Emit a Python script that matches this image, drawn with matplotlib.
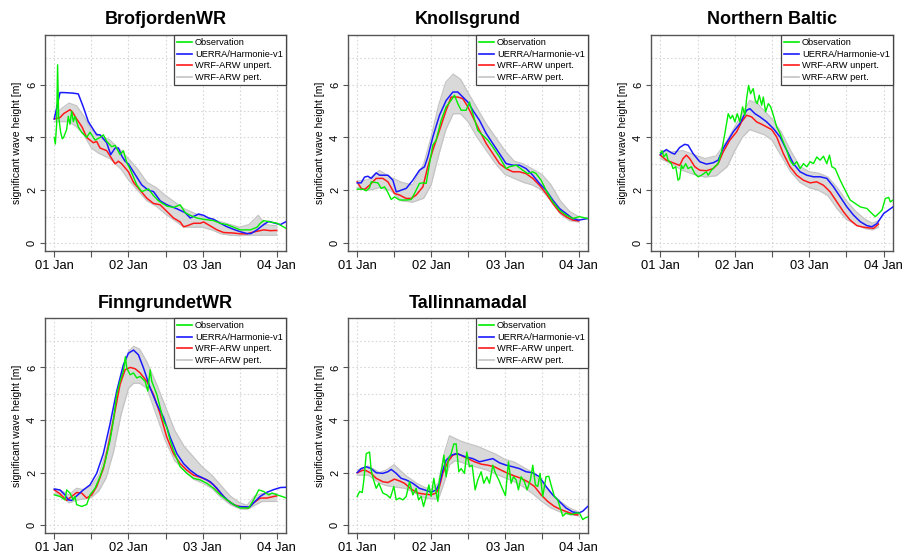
import matplotlib
matplotlib.use("Agg")
import matplotlib.pyplot as plt
from matplotlib.lines import Line2D

plt.rcParams['font.family'] = ['Liberation Sans', 'DejaVu Sans']

# ---------------- data (time in days since 01 Jan 00:00, Hs in m) ----------------
stations = ["BrofjordenWR", "Knollsgrund", "Northern Baltic", "FinngrundetWR", "Tallinnamadal"]
day_ticks = [0, 1, 2, 3]
day_labels = ["01 Jan", "02 Jan", "03 Jan", "04 Jan"]
legend_labels = ["Observation", "UERRA/Harmonie-v1", "WRF-ARW unpert.", "WRF-ARW pert."]

# BrofjordenWR
bro_obs_t = [0, .014, .032, .045, .059, .086, .108, .126, .167, .189, .212, .234, .257, .279, .324, .369, .437, .482,
             .550, .617, .662, .707, .775, .820, .887, .932, .977, 1.023, 1.068, 1.113, 1.180, 1.270, 1.338, 1.405,
             1.518, 1.608, 1.698, 1.766, 1.833, 1.923, 2.014, 2.149, 2.239, 2.329, 2.419, 2.509, 2.644, 2.734, 2.779,
             2.824, 2.914, 3.005, 3.131]
bro_obs_v = [4.0, 3.75, 4.5, 6.75, 4.8, 4.2, 3.95, 4.0, 4.3, 4.8, 4.5, 5.0, 4.6, 4.8, 4.4, 4.2, 4.0, 4.2,
             3.9, 4.0, 4.1, 3.85, 3.65, 3.7, 3.35, 3.5, 3.05, 2.8, 2.5, 2.2, 1.95, 2.05, 1.8, 1.6,
             1.4, 1.35, 1.45, 1.15, 1.05, 0.95, 0.9, 0.85, 0.75, 0.7, 0.6, 0.5, 0.5, 0.6, 0.75,
             0.85, 0.8, 0.75, 0.55]
bro_uerra_t = [0, .077, .126, .248, .324, .392, .459, .572, .617, .707, .761, .820, .865, .910, .955, 1.0, 1.090,
               1.180, 1.270, 1.338, 1.428, 1.518, 1.653, 1.766, 1.833, 1.946, 2.014, 2.081, 2.149, 2.239, 2.329,
               2.419, 2.509, 2.599, 2.653, 2.734, 2.824, 2.892, 2.982, 3.050, 3.131]
bro_uerra_v = [4.7, 5.7, 5.7, 5.68, 5.65, 5.15, 4.6, 4.1, 4.1, 3.8, 3.35, 3.6, 3.6, 3.3, 3.1, 3.0, 2.6,
               2.2, 2.0, 1.95, 1.6, 1.45, 1.3, 1.15, 0.95, 1.1, 1.05, 0.95, 0.9, 0.75, 0.62,
               0.52, 0.43, 0.36, 0.36, 0.5, 0.7, 0.82, 0.75, 0.7, 0.82]
bro_wrf_t = [0, .077, .126, .212, .248, .302, .374, .437, .527, .572, .617, .707, .752, .820, .865, .910, 1.0,
             1.068, 1.158, 1.248, 1.338, 1.428, 1.518, 1.608, 1.698, 1.743, 1.788, 1.878, 1.968, 2.014, 2.104,
             2.194, 2.284, 2.419, 2.509, 2.599, 2.689, 2.824, 2.914, 3.0]
bro_wrf_v = [4.7, 4.75, 4.9, 5.05, 4.95, 4.7, 4.4, 4.0, 3.8, 3.85, 3.6, 3.5, 3.3, 3.0, 3.1, 3.0, 2.7,
             2.3, 2.0, 1.7, 1.5, 1.45, 1.2, 0.95, 0.8, 0.62, 0.65, 0.75, 0.75, 0.8, 0.65,
             0.5, 0.4, 0.38, 0.35, 0.35, 0.42, 0.5, 0.47, 0.48]
bro_ens_t = [0, 0.1, 0.2, 0.3, 0.4, 0.5, 0.6, 0.75, 0.9, 1.0, 1.125, 1.25, 1.375, 1.5, 1.625, 1.75, 1.875, 2.0,
             2.125, 2.25, 2.375, 2.5, 2.625, 2.75, 2.85, 3.0]
bro_ens_hi = [4.8, 5.1, 5.3, 5.2, 4.8, 4.3, 4.1, 3.9, 3.5, 3.2, 2.8, 2.3, 2.1, 1.8, 1.55, 1.3, 1.15, 1.0,
              0.9, 0.8, 0.7, 0.6, 0.7, 1.05, 0.7, 0.65]
bro_ens_lo = [4.6, 4.6, 4.6, 4.4, 4.1, 3.6, 3.4, 3.2, 2.8, 2.4, 2.0, 1.6, 1.4, 1.1, 0.85, 0.6, 0.6, 0.6,
              0.5, 0.35, 0.3, 0.28, 0.3, 0.3, 0.3, 0.3]

# Knollsgrund
kno_obs_t = [0, .077, .122, .167, .189, .280, .325, .370, .415, .460, .505, .573, .663, .731, .776, .843, .889, .934,
             .979, 1.024, 1.069, 1.137, 1.204, 1.272, 1.317, 1.362, 1.407, 1.475, 1.520, 1.565, 1.633, 1.700, 1.768,
             1.836, 1.926, 2.016, 2.061, 2.152, 2.242, 2.309, 2.377, 2.422, 2.490, 2.557, 2.648, 2.738, 2.828, 2.918,
             3.009, 3.121]
kno_obs_v = [2.04, 2.04, 1.98, 2.1, 2.32, 2.28, 2.07, 2.13, 1.92, 1.65, 1.75, 1.63, 1.63, 1.65, 1.88, 2.26, 2.28, 2.26,
             3.01, 3.71, 3.9, 4.65, 5.16, 5.41, 5.6, 5.28, 5.03, 5.03, 5.34, 4.9, 4.27, 4.08, 3.9,
             3.64, 3.26, 2.82, 2.89, 2.95, 2.76, 2.63, 2.70, 2.63, 2.38, 2.0, 1.56, 1.25, 1.06, 0.93,
             1.0, 0.93]
kno_uerra_t = [0, .054, .099, .144, .189, .257, .302, .415, .483, .528, .573, .663, .753, .843, .911, .956, 1.024,
               1.114, 1.204, 1.295, 1.362, 1.430, 1.498, 1.565, 1.655, 1.746, 1.836, 1.926, 2.016, 2.106, 2.197,
               2.287, 2.377, 2.467, 2.557, 2.648, 2.738, 2.828, 2.918, 3.0, 3.121]
kno_uerra_v = [2.28, 2.28, 2.5, 2.53, 2.45, 2.66, 2.57, 2.57, 2.38, 1.94, 1.98, 2.07, 2.38, 2.76, 2.89, 3.26, 4.02,
               4.84, 5.4, 5.72, 5.72, 5.53, 5.34, 5.03, 4.65, 4.15, 3.77, 3.39, 3.01, 2.95, 2.95,
               2.82, 2.57, 2.26, 2.0, 1.63, 1.31, 1.12, 0.93, 0.87, 0.93]
kno_wrf_t = [0, .054, .099, .167, .257, .347, .415, .505, .573, .663, .731, .798, .889, .956, 1.024, 1.114, 1.204,
             1.272, 1.362, 1.430, 1.498, 1.565, 1.655, 1.746, 1.836, 1.926, 2.016, 2.106, 2.197, 2.287, 2.377,
             2.467, 2.557, 2.648, 2.738, 2.828, 2.918, 3.0]
kno_wrf_v = [2.32, 2.07, 2.03, 2.19, 2.45, 2.45, 2.32, 1.88, 1.82, 1.69, 1.69, 1.82, 2.13, 2.89, 3.52, 4.27, 5.03,
             5.53, 5.53, 5.47, 5.16, 4.78, 4.27, 3.77, 3.39, 3.01, 2.82, 2.70, 2.70, 2.63, 2.45,
             2.19, 1.88, 1.50, 1.18, 1.0, 0.87, 0.84]
kno_ens_t = [0, 0.15, 0.3, 0.45, 0.6, 0.75, 0.9, 1.0, 1.1, 1.2, 1.3, 1.4, 1.5, 1.625, 1.75, 1.875, 2.0, 2.125,
             2.25, 2.375, 2.5, 2.625, 2.75, 2.875, 3.0]
kno_ens_hi = [2.35, 2.4, 2.75, 2.5, 2.3, 2.2, 3.0, 4.0, 5.2, 6.1, 6.4, 6.2, 5.7, 5.1, 4.5, 4.0, 3.5, 3.1,
              3.0, 2.8, 2.6, 2.2, 1.6, 1.2, 1.0]
kno_ens_lo = [2.1, 2.0, 2.1, 2.0, 1.6, 1.55, 1.7, 2.2, 3.3, 4.3, 4.9, 4.9, 4.6, 4.0, 3.5, 3.0, 2.6, 2.45,
              2.3, 2.2, 2.0, 1.6, 1.1, 0.85, 0.8]

# Northern Baltic
nob_obs_t = [0, .027, .045, .081, .103, .148, .171, .207, .238, .260, .283, .305, .341, .373, .418, .463, .507, .552,
             .620, .642, .687, .732, .777, .822, .867, .912, .943, .970, 1.001, 1.033, 1.069, 1.105, 1.136, 1.159,
             1.185, 1.212, 1.248, 1.275, 1.302, 1.329, 1.361, 1.383, 1.414, 1.450, 1.482, 1.518, 1.563, 1.608,
             1.652, 1.697, 1.742, 1.787, 1.832, 1.877, 1.922, 1.967, 2.012, 2.057, 2.101, 2.146, 2.191, 2.236,
             2.272, 2.304, 2.348, 2.416, 2.483, 2.550, 2.618, 2.685, 2.775, 2.842, 2.887, 2.932, 2.977, 3.022,
             3.067, 3.089, 3.125]
nob_obs_v = [3.42, 3.49, 3.26, 3.39, 3.14, 3.01, 2.82, 2.89, 2.38, 2.44, 2.95, 2.82, 3.01, 2.82, 2.89, 2.63, 2.51, 2.57,
             2.7, 2.57, 2.76, 2.89, 3.01, 3.45, 4.15, 4.9, 4.71, 4.84, 4.59, 4.9, 4.59, 5.16, 4.84, 5.47,
             5.97, 5.66, 5.85, 5.41, 5.28, 5.6, 5.22, 5.53, 4.97, 5.28, 5.16, 4.84, 4.4, 4.15,
             3.83, 3.52, 3.14, 2.95, 3.08, 2.82, 3.01, 2.89, 3.08, 3.01, 3.26, 3.14, 3.29, 3.01,
             3.33, 2.89, 2.82, 2.38, 2.0, 1.63, 1.5, 1.37, 1.31, 1.12, 1.0, 1.12, 1.25, 1.69,
             1.73, 1.56, 1.63]
nob_uerra_t = [0, .036, .081, .148, .193, .260, .328, .373, .440, .530, .620, .709, .777, .844, .912, .979, 1.069,
               1.159, 1.203, 1.271, 1.338, 1.428, 1.518, 1.608, 1.697, 1.787, 1.877, 1.967, 2.057, 2.146, 2.236,
               2.326, 2.416, 2.506, 2.595, 2.685, 2.775, 2.842, 2.910, 3.0, 3.125]
nob_uerra_v = [3.35, 3.45, 3.54, 3.42, 3.37, 3.62, 3.74, 3.71, 3.39, 3.08, 2.99, 3.04, 3.14, 3.58, 3.9, 4.21, 4.53,
               5.03, 5.09, 4.9, 4.78, 4.59, 4.34, 4.02, 3.52, 3.01, 2.70, 2.57, 2.51, 2.51, 2.45,
               2.13, 1.75, 1.37, 1.06, 0.81, 0.66, 0.62, 0.74, 1.12, 1.37]
nob_wrf_t = [0, .081, .171, .260, .305, .350, .395, .463, .530, .620, .709, .777, .844, .934, 1.024, 1.091, 1.159,
             1.226, 1.293, 1.361, 1.428, 1.495, 1.563, 1.652, 1.742, 1.832, 1.922, 2.012, 2.101, 2.191, 2.281,
             2.371, 2.461, 2.550, 2.640, 2.730, 2.820, 2.865, 2.930]
nob_wrf_v = [3.33, 3.14, 3.04, 2.94, 3.2, 3.33, 3.2, 2.89, 2.76, 2.74, 2.82, 3.01, 3.45, 3.9, 4.21, 4.59, 4.84,
             4.78, 4.59, 4.5, 4.4, 4.3, 4.02, 3.39, 2.89, 2.57, 2.38, 2.28, 2.32, 2.19, 1.94,
             1.56, 1.18, 0.87, 0.66, 0.6, 0.57, 0.56, 0.72]
nob_ens_t = [0, 0.15, 0.3, 0.45, 0.6, 0.75, 0.9, 1.0, 1.1, 1.2, 1.3, 1.4, 1.5, 1.625, 1.75, 1.875, 2.0, 2.125,
             2.25, 2.375, 2.5, 2.625, 2.75, 2.85, 2.93]
nob_ens_hi = [3.5, 3.45, 3.5, 3.35, 3.2, 3.3, 3.9, 4.4, 4.9, 5.4, 5.3, 5.0, 4.7, 4.2, 3.5, 2.9, 2.7, 2.65,
              2.5, 2.1, 1.6, 1.2, 0.9, 0.75, 0.85]
nob_ens_lo = [3.2, 3.0, 2.75, 2.6, 2.5, 2.55, 2.9, 3.5, 4.0, 4.3, 4.2, 4.1, 3.9, 3.3, 2.7, 2.3, 2.1, 2.0,
              1.8, 1.3, 0.9, 0.7, 0.55, 0.5, 0.6]

# FinngrundetWR
fin_obs_t = [0, .077, .144, .167, .212, .257, .279, .302, .369, .437, .482, .550, .617, .685, .752, .797, .842, .887,
             .932, .959, .977, 1.023, 1.068, 1.113, 1.158, 1.225, 1.261, 1.293, 1.315, 1.383, 1.428, 1.473, 1.518,
             1.563, 1.608, 1.698, 1.788, 1.878, 1.968, 2.059, 2.149, 2.239, 2.329, 2.419, 2.509, 2.622, 2.689,
             2.757, 2.824, 2.892, 2.937, 3.005, 3.072, 3.131]
fin_obs_v = [1.15, 1.09, 0.96, 1.34, 1.22, 0.96, 1.09, 0.78, 0.71, 0.78, 1.15, 1.4, 1.84, 2.4, 3.22, 3.97, 4.97, 5.47,
             5.85, 6.41, 5.98, 5.72, 5.79, 5.6, 5.66, 5.47, 5.1, 5.91, 5.47, 4.97, 4.47, 3.97, 3.72,
             3.22, 2.84, 2.22, 1.97, 1.78, 1.72, 1.59, 1.4, 1.15, 0.96, 0.78, 0.65, 0.65, 0.96,
             1.34, 1.28, 1.15, 1.22, 1.15, 1.09, 1.03]
fin_uerra_t = [0, .077, .144, .189, .234, .302, .392, .482, .572, .662, .752, .842, .932, 1.0, 1.068, 1.135, 1.203,
               1.293, 1.383, 1.473, 1.563, 1.653, 1.743, 1.833, 1.923, 2.014, 2.104, 2.194, 2.284, 2.374, 2.464,
               2.545, 2.635, 2.689, 2.779, 2.869, 2.959, 3.050, 3.131]
fin_uerra_v = [1.37, 1.34, 1.15, 0.96, 0.94, 1.11, 1.34, 1.53, 1.97, 2.72, 3.85, 5.1, 6.1, 6.54, 6.66, 6.48, 5.98,
               5.22, 4.6, 4.1, 3.34, 2.72, 2.34, 2.09, 1.9, 1.78, 1.65, 1.4, 1.09, 0.86, 0.71,
               0.70, 0.69, 0.85, 1.1, 1.25, 1.35, 1.43, 1.44]
fin_wrf_t = [0, .077, .167, .234, .302, .369, .437, .505, .572, .662, .752, .820, .887, .955, 1.023, 1.090, 1.158,
             1.248, 1.338, 1.428, 1.518, 1.608, 1.698, 1.788, 1.878, 1.968, 2.059, 2.149, 2.239, 2.329, 2.419,
             2.509, 2.622, 2.689, 2.779, 2.869, 2.959, 3.0]
fin_wrf_v = [1.34, 1.19, 0.94, 1.09, 1.24, 1.22, 1.03, 1.15, 1.47, 2.15, 3.34, 4.35, 5.35, 5.91, 6.0, 5.95, 5.79,
             5.47, 4.97, 4.22, 3.34, 2.72, 2.34, 2.09, 1.9, 1.82, 1.72, 1.53, 1.22, 0.96, 0.78,
             0.7, 0.66, 0.85, 1.03, 1.03, 1.09, 1.11]
fin_ens_t = [0, 0.1, 0.2, 0.3, 0.4, 0.5, 0.6, 0.7, 0.8, 0.9, 1.0, 1.07, 1.15, 1.25, 1.375, 1.5, 1.625, 1.75,
             1.875, 2.0, 2.125, 2.25, 2.375, 2.5, 2.6, 2.7, 2.8, 2.9, 3.0]
fin_ens_hi = [1.4, 1.3, 1.15, 1.4, 1.35, 1.5, 1.9, 2.8, 4.2, 5.6, 6.6, 6.8, 6.7, 6.2, 5.4, 4.5, 3.6, 3.0,
              2.6, 2.2, 1.9, 1.5, 1.1, 0.85, 0.75, 1.1, 1.2, 1.2, 1.2]
fin_ens_lo = [1.2, 1.1, 0.85, 0.95, 1.0, 1.05, 1.3, 1.8, 2.8, 4.2, 5.2, 5.4, 5.4, 5.2, 4.2, 3.2, 2.45, 2.1,
              1.75, 1.6, 1.4, 1.05, 0.78, 0.62, 0.6, 0.75, 0.9, 0.9, 0.9]

# Tallinnamadal
tal_obs_t = [0, .032, .068, .090, .122, .167, .189, .221, .257, .293, .347, .401, .447, .496, .528, .573, .618, .663,
             .708, .753, .798, .830, .866, .898, .934, .970, 1.001, 1.037, 1.069, 1.092, 1.114, 1.150, 1.173, 1.204,
             1.236, 1.272, 1.308, 1.340, 1.376, 1.407, 1.452, 1.484, 1.520, 1.556, 1.597, 1.633, 1.678, 1.714,
             1.755, 1.791, 1.836, 1.872, 1.917, 1.953, 2.007, 2.048, 2.084, 2.115, 2.152, 2.183, 2.219, 2.264,
             2.300, 2.345, 2.377, 2.413, 2.445, 2.476, 2.512, 2.557, 2.594, 2.625, 2.670, 2.715, 2.783, 2.828,
             2.896, 2.963, 3.009, 3.054, 3.090, 3.121]
tal_obs_v = [1.09, 1.28, 1.24, 1.72, 2.72, 2.78, 2.09, 1.72, 1.4, 1.59, 1.22, 1.15, 1.03, 1.47, 0.96, 1.03, 0.96, 1.09,
             1.65, 1.15, 1.4, 0.96, 1.09, 0.71, 1.09, 1.53, 1.09, 1.78, 1.22, 0.9, 1.72, 2.22, 2.66, 1.84,
             2.53, 2.72, 3.09, 3.09, 2.03, 2.15, 1.97, 2.78, 2.22, 2.28, 1.34, 1.72, 2.03, 1.59,
             1.84, 1.59, 2.28, 1.97, 1.72, 1.47, 1.12, 2.41, 1.59, 1.84, 1.72, 1.34, 1.84, 1.65,
             1.34, 1.72, 2.28, 1.53, 1.47, 1.97, 1.09, 1.84, 1.86, 1.53, 1.09, 0.96, 0.34, 0.46,
             0.4, 0.46, 0.46, 0.21, 0.28, 0.31]
tal_uerra_t = [0, .054, .122, .189, .257, .347, .415, .460, .528, .595, .663, .753, .843, .934, 1.001, 1.069, 1.114,
               1.159, 1.204, 1.272, 1.340, 1.407, 1.475, 1.565, 1.655, 1.746, 1.836, 1.926, 2.016, 2.106, 2.197,
               2.287, 2.377, 2.467, 2.557, 2.648, 2.738, 2.828, 2.918, 3.0, 3.054, 3.121]
tal_uerra_v = [2.0, 2.15, 2.22, 2.15, 1.99, 1.97, 2.03, 2.12, 1.97, 1.78, 1.72, 1.59, 1.4, 1.32, 1.25, 1.34, 1.59,
               2.09, 2.47, 2.66, 2.72, 2.66, 2.59, 2.53, 2.41, 2.47, 2.53, 2.37, 2.28, 2.22, 2.15,
               2.03, 1.99, 1.84, 1.47, 1.15, 0.9, 0.65, 0.5, 0.46, 0.53, 0.71]
tal_wrf_t = [0, .077, .122, .189, .257, .347, .415, .505, .573, .641, .731, .821, .911, 1.001, 1.069, 1.114, 1.159,
             1.227, 1.295, 1.362, 1.430, 1.498, 1.588, 1.678, 1.768, 1.858, 1.949, 2.039, 2.129, 2.219, 2.309,
             2.400, 2.490, 2.580, 2.670, 2.760, 2.851, 2.941, 2.986]
tal_wrf_v = [1.99, 2.09, 2.07, 1.97, 1.78, 1.65, 1.62, 1.75, 1.68, 1.59, 1.37, 1.22, 1.18, 1.15, 1.22, 1.47, 1.97,
             2.41, 2.66, 2.72, 2.62, 2.53, 2.41, 2.32, 2.28, 2.22, 2.09, 1.97, 1.87, 1.78, 1.65,
             1.47, 1.15, 0.9, 0.71, 0.59, 0.49, 0.4, 0.39]
tal_ens_t = [0, 0.15, 0.3, 0.4, 0.5, 0.65, 0.8, 0.9, 1.0, 1.1, 1.175, 1.25, 1.325, 1.4, 1.5, 1.625, 1.75, 1.875,
             2.0, 2.125, 2.25, 2.375, 2.5, 2.625, 2.75, 2.875, 3.0]
tal_ens_hi = [2.1, 2.25, 2.0, 2.1, 2.3, 1.9, 1.6, 1.45, 1.35, 1.6, 2.7, 3.4, 3.3, 3.2, 3.1, 3.0, 2.85, 2.7,
              2.5, 2.4, 2.2, 2.0, 1.6, 1.2, 0.9, 0.65, 0.5]
tal_ens_lo = [1.9, 1.9, 1.6, 1.5, 1.45, 1.4, 1.2, 1.05, 1.0, 1.0, 1.6, 2.3, 2.45, 2.4, 2.3, 2.2, 2.1, 1.95,
              1.8, 1.65, 1.45, 1.2, 0.9, 0.65, 0.5, 0.4, 0.35]

panels = [
    (bro_obs_t, bro_obs_v, bro_uerra_t, bro_uerra_v, bro_wrf_t, bro_wrf_v, bro_ens_t, bro_ens_lo, bro_ens_hi),
    (kno_obs_t, kno_obs_v, kno_uerra_t, kno_uerra_v, kno_wrf_t, kno_wrf_v, kno_ens_t, kno_ens_lo, kno_ens_hi),
    (nob_obs_t, nob_obs_v, nob_uerra_t, nob_uerra_v, nob_wrf_t, nob_wrf_v, nob_ens_t, nob_ens_lo, nob_ens_hi),
    (fin_obs_t, fin_obs_v, fin_uerra_t, fin_uerra_v, fin_wrf_t, fin_wrf_v, fin_ens_t, fin_ens_lo, fin_ens_hi),
    (tal_obs_t, tal_obs_v, tal_uerra_t, tal_uerra_v, tal_wrf_t, tal_wrf_v, tal_ens_t, tal_ens_lo, tal_ens_hi),
]

# ---------------- styling ----------------
C_OBS, C_UERRA, C_WRF, C_ENS = '#00ee00', '#1a1aff', '#ff1a1a', '#c4c4c4'
C_FILL = '#d9d9d9'
C_BOX = '#555555'
W, H = 904, 556
# axes rectangles in pixels: left, top, width, height
rects = [(45, 35, 241, 216), (348, 35, 240, 216), (651, 35, 242, 216),
         (45, 318, 241, 215), (348, 318, 240, 215)]

fig = plt.figure(figsize=(W / 100, H / 100), dpi=100)

for name, rect, data in zip(stations, rects, panels):
    l, t, w, h = rect
    ax = fig.add_axes([l / W, 1 - (t + h) / H, w / W, h / H])
    obs_t, obs_v, ue_t, ue_v, wr_t, wr_v, en_t, en_lo, en_hi = data

    ax.set_xlim(-0.125, 3.125)
    ax.set_ylim(-0.3, 7.88)
    for gx in [0, 0.5, 1, 1.5, 2, 2.5, 3]:
        ax.axvline(gx, color='#d8d8d8', lw=0.8, ls=(0, (1.5, 2)), zorder=0)
    for gy in range(0, 8):
        ax.axhline(gy, color='#d8d8d8', lw=0.8, ls=(0, (1.5, 2)), zorder=0)

    ax.fill_between(en_t, en_lo, en_hi, color=C_FILL, lw=0, zorder=1)
    ax.plot(en_t, en_lo, color=C_ENS, lw=0.9, zorder=1.5)
    ax.plot(en_t, en_hi, color=C_ENS, lw=0.9, zorder=1.5)
    ax.plot(wr_t, wr_v, color=C_WRF, lw=1.1, zorder=2)
    ax.plot(ue_t, ue_v, color=C_UERRA, lw=1.1, zorder=3)
    ax.plot(obs_t, obs_v, color=C_OBS, lw=1.0, zorder=4)

    ax.set_xticks([0, 0.5, 1, 1.5, 2, 2.5, 3])
    ax.set_xticklabels([day_labels[0], '', day_labels[1], '', day_labels[2], '', day_labels[3]])
    ax.set_yticks([0, 2, 4, 6])
    ax.set_yticklabels(['0', '2', '4', '6'])
    ax.tick_params(axis='x', length=4.3, width=0.8, color=C_BOX, pad=2.5, labelsize=9.3)
    ax.tick_params(axis='y', length=3.8, width=0.8, color=C_BOX, pad=2.0, labelsize=8.0,
                   labelrotation=90)
    for lab in ax.get_yticklabels():
        lab.set_va('center')
    for s in ax.spines.values():
        s.set_color(C_BOX)
        s.set_linewidth(1.0)

    ax.text(0.5, 1 + 15 / h, name, transform=ax.transAxes, ha='center', va='center',
            fontsize=13, fontweight='bold')
    ax.text(-28 / w, 0.5, 'significant wave height [m]', transform=ax.transAxes, rotation=90,
            ha='center', va='center', fontsize=7.5)

    handles = [Line2D([], [], color=C_OBS, lw=1.2), Line2D([], [], color=C_UERRA, lw=1.2),
               Line2D([], [], color=C_WRF, lw=1.2), Line2D([], [], color=C_ENS, lw=1.2)]
    leg = ax.legend(handles, legend_labels, loc='upper right', bbox_to_anchor=(1, 1),
                    borderaxespad=0, fontsize=6.7, frameon=True, fancybox=False,
                    handlelength=1.6, handletextpad=0.3, labelspacing=0.28, borderpad=0.35,
                    framealpha=1)
    leg.get_frame().set_edgecolor('#444444')
    leg.get_frame().set_linewidth(0.9)
    leg.set_zorder(10)

fig.savefig('out.png', dpi=100)
